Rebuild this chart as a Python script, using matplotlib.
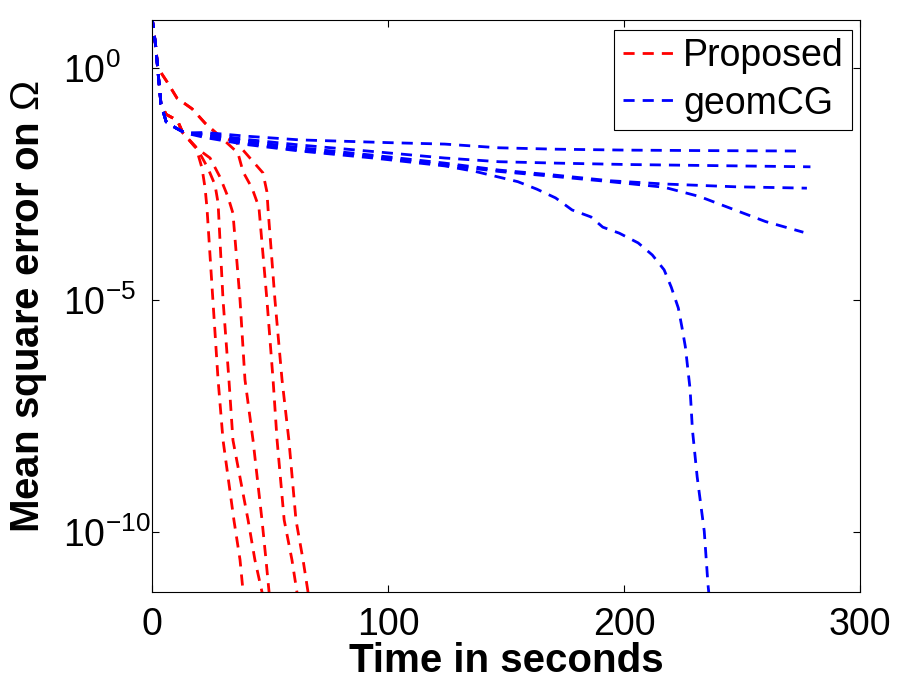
import numpy as np
import matplotlib
matplotlib.use('Agg')
import matplotlib.pyplot as plt

# --- data (time in s, log10 of mean square error) ---
# Proposed (red), 5 runs
t_prop1 = [0, 1.5, 3.8, 6, 8.9, 11, 13.1, 18.6, 21.2, 22.5, 23.3, 25.8, 28, 30.1, 34.7, 37.3, 38.6, 39]
e_prop1 = [1.1, 0.5, -0.78, -1.0, -1.08, -1.16, -1.40, -1.70, -2.16, -2.59, -3.02, -5.0, -6.72, -8.02, -9.74, -10.6, -11.29, -11.45]

t_prop2 = [0, 1.5, 3.8, 6, 8.9, 11, 13.1, 19.5, 23.7, 26.7, 28, 30.1, 32.6, 34.3, 40.7, 43.6, 46.6, 47.2]
e_prop2 = [1.1, 0.5, -0.78, -1.0, -1.08, -1.16, -1.40, -1.77, -2.16, -2.52, -2.91, -5.0, -6.72, -8.02, -9.74, -10.6, -11.29, -11.45]

t_prop3 = [0, 1.5, 3.8, 6, 8.9, 11, 13.1, 18.2, 24.6, 28.8, 32.2, 34.3, 37.3, 39.4, 42.8, 46.6, 48.3, 49.6, 50]
e_prop3 = [1.1, 0.5, -0.78, -1.0, -1.08, -1.16, -1.40, -1.70, -1.94, -2.35, -2.78, -3.13, -5.0, -6.72, -8.02, -9.74, -10.6, -11.29, -11.45]

t_prop4 = [0, 1.5, 2.5, 6.4, 10.6, 17, 22.5, 28, 36.4, 38.6, 42.4, 45.3, 48.7, 51.3, 53, 56, 59.3, 61.4, 62]
e_prop4 = [1.1, 0.5, 0.0, -0.30, -0.65, -0.88, -1.19, -1.44, -1.83, -2.24, -2.59, -3.0, -5.0, -6.72, -8.02, -9.74, -10.6, -11.29, -11.45]

t_prop5 = [0, 1.5, 2.5, 6.4, 10.6, 17, 22.5, 28, 36, 41.5, 47, 48.7, 49.2, 52.1, 55.1, 58, 61, 64, 66.1, 66.6]
e_prop5 = [1.1, 0.5, 0.0, -0.30, -0.65, -0.88, -1.19, -1.44, -1.62, -1.94, -2.26, -2.67, -3.06, -5.0, -6.72, -8.02, -9.74, -10.6, -11.29, -11.45]

# geomCG (blue), 5 runs
t_geom1 = [0, 1.5, 3.8, 6, 10, 14, 22.5, 40, 62.7, 101, 124, 147, 171, 201, 232, 275]
e_geom1 = [1.1, 0.5, -0.78, -1.16, -1.29, -1.40, -1.39, -1.47, -1.55, -1.61, -1.64, -1.72, -1.75, -1.77, -1.78, -1.79]

t_geom2 = [0, 1.5, 3.8, 6, 10, 14, 22.5, 40, 62.7, 93.6, 124, 147, 171, 201, 232, 279]
e_geom2 = [1.1, 0.5, -0.78, -1.16, -1.29, -1.40, -1.42, -1.54, -1.66, -1.80, -1.94, -2.02, -2.05, -2.08, -2.10, -2.13]

t_geom3 = [0, 1.5, 3.8, 6, 10, 14, 22.5, 40, 62.7, 93.6, 124, 147, 171, 194, 217, 247, 277.5]
e_geom3 = [1.1, 0.5, -0.78, -1.16, -1.29, -1.40, -1.45, -1.58, -1.72, -1.88, -2.05, -2.20, -2.31, -2.43, -2.50, -2.56, -2.59]

t_geom4 = [0, 1.5, 3.8, 6, 10, 14, 22.5, 40, 62.7, 93.6, 124, 147, 171, 194, 217, 232, 247, 260, 276]
e_geom4 = [1.1, 0.5, -0.78, -1.16, -1.29, -1.40, -1.47, -1.62, -1.77, -1.91, -2.09, -2.23, -2.34, -2.45, -2.57, -2.77, -3.06, -3.31, -3.54]

t_geom5 = [0, 1.5, 3.8, 6, 10, 14, 22.5, 40, 62.7, 93.6, 124, 137, 155, 163, 171, 178, 186, 191, 198, 206,
           212, 217, 220, 223, 224.6, 226, 228, 229, 231, 234, 235.6, 236.3]
e_geom5 = [1.1, 0.5, -0.78, -1.16, -1.29, -1.40, -1.50, -1.65, -1.79, -1.94, -2.11, -2.23, -2.45, -2.61, -2.80, -3.06, -3.21, -3.43, -3.56, -3.77,
           -4.03, -4.35, -4.72, -5.17, -5.60, -6.01, -6.92, -7.80, -8.81, -9.98, -11.14, -11.5]

proposed_t = [t_prop1, t_prop2, t_prop3, t_prop4, t_prop5]
proposed_e = [e_prop1, e_prop2, e_prop3, e_prop4, e_prop5]
geom_t = [t_geom1, t_geom2, t_geom3, t_geom4, t_geom5]
geom_e = [e_geom1, e_geom2, e_geom3, e_geom4, e_geom5]

x_ticks = [0, 100, 200, 300]
y_ticks = [1e-10, 1e-5, 1e0]
y_ticklabels = [r'$\mathdefault{10^{-10}}$', r'$\mathdefault{10^{-5}}$', r'$\mathdefault{10^{0}}$']

plt.rcParams['font.family'] = ['Liberation Sans', 'DejaVu Sans']
plt.rcParams['mathtext.fontset'] = 'custom'
plt.rcParams['mathtext.rm'] = 'Liberation Sans'
plt.rcParams['mathtext.it'] = 'Liberation Sans:italic'
plt.rcParams['mathtext.bf'] = 'Liberation Sans:bold'

fig = plt.figure(figsize=(9, 6.82), dpi=100)
ax = fig.add_axes([152 / 900, 90 / 682, 708 / 900, 572 / 682])

dash = (0, (4, 2.9))
for i in range(len(proposed_t)):
    ax.semilogy(proposed_t[i], 10.0 ** np.array(proposed_e[i]), color='red', lw=2, ls=dash,
                label='Proposed' if i == 0 else None)
for i in range(len(geom_t)):
    ax.semilogy(geom_t[i], 10.0 ** np.array(geom_e[i]), color='blue', lw=2, ls=dash,
                label='geomCG' if i == 0 else None)

ax.set_xlim(0, 300)
ax.set_ylim(10 ** -11.293, 10 ** 1.034)
ax.set_xticks(x_ticks)
ax.set_yticks(y_ticks)
ax.set_yticklabels(y_ticklabels, ha='left')
ax.minorticks_off()
ax.tick_params(which='both', direction='in', top=True, right=True, length=5, width=0.8,
               labelsize=27)
ax.tick_params(axis='x', pad=11)
ax.tick_params(axis='y', pad=64)
for s in ax.spines.values():
    s.set_linewidth(0.8)

ax.set_xlabel('Time in seconds', fontsize=29, fontweight='bold')
ax.set_ylabel(r'Mean square error on $\Omega$', fontsize=29, fontweight='bold')
ax.xaxis.set_label_coords(0.5, -0.087)
ax.yaxis.set_label_coords(-0.146, 0.5)

leg = ax.legend(loc='upper right', bbox_to_anchor=(0.9887, 0.9825), borderaxespad=0,
                fontsize=27, handlelength=1.39, handletextpad=0.22, borderpad=0.22,
                labelspacing=0.3, fancybox=False, framealpha=1)
leg.get_frame().set_edgecolor('black')
leg.get_frame().set_linewidth(0.8)

fig.savefig('out.png', dpi=100)
